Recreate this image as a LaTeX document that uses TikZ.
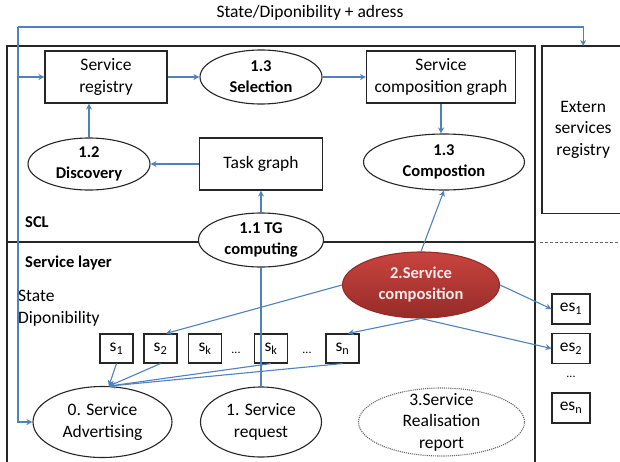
\documentclass[tikz,border=0pt]{standalone}
\usepackage{fontspec}
\setmainfont{Carlito}
\usetikzlibrary{arrows.meta, shapes.geometric}
\definecolor{cblue}{HTML}{4F81BD}
\definecolor{cred}{HTML}{C9443F}
\definecolor{cdred}{HTML}{962B28}
\definecolor{cline}{HTML}{262626}
\tikzset{
  every picture/.style={font=\fontsize{17.5}{21.5}\selectfont},
  box/.style={draw=cline, line width=1.1pt, align=center, inner sep=3pt},
  ell/.style={ellipse, draw=cline, line width=1.1pt, inner sep=0pt},
  arrow/.style={-{Stealth[length=6pt, width=6pt]}, draw=cblue, line width=1.1pt},
  wire/.style={draw=cblue, line width=1.1pt},
  frame/.style={draw=cline, line width=1.1pt},
  bold/.style={font=\fontsize{16.5}{21}\selectfont\bfseries, align=center},
  note/.style={align=center},
  sbox/.style={box, minimum width=33, minimum height=29, inner sep=0pt},
  dots/.style={font=\fontsize{12}{14}\selectfont, inner sep=1pt},
}

\begin{document}
\begin{tikzpicture}[x=1pt, y=-1pt]
  \useasboundingbox (0,0) rectangle (620,461);
  % frames of the two layers
  \draw[frame] (7,470) -- (7,46) -- (535,46) -- (535,470);
  \draw[cline, line width=1.4pt] (7,242) -- (535,242);
  \draw[black!60, densely dashed, line width=0.8pt] (540,242) -- (620,242);
  \node[note, minimum width=82, minimum height=167, anchor=north west] (ext) at (542,46) {Extern\\services\\registry};
  \draw[frame] (ext.north east) -- (ext.north west) -- (ext.south west) -- (ext.south east);
  \node (sda) at (310,13) {State/Diponibility + adress};
  % SCL
  \node[box, minimum width=122, minimum height=52] (reg) at (106,77) {Service\\registry};
  \node[ell, minimum width=122, minimum height=54] (sel) at (261,77) {};
  \node[bold] (sel-t) at (sel) {1.3\\Selection};
  \node[box, minimum width=149, minimum height=52] (scg) at (441,77) {Service\\composition graph};
  \node[ell, minimum width=122, minimum height=52] (disc) at (89,164) {};
  \node[bold] (disc-t) at (disc) {1.2\\Discovery};
  \node[box, minimum width=123, minimum height=52] (tg) at (261,164) {Task graph};
  \node[ell, minimum width=161, minimum height=56] (comp) at (444,162) {};
  \node[bold] (comp-t) at (comp) {1.3\\Compostion};
  \node[ell, fill=white, minimum width=125, minimum height=54] (tgc) at (261,240) {};
  \node[bold] (tgc-t) at (tgc) {1.1 TG\\computing};
  \node[bold, anchor=west, inner sep=1pt] (scl) at (24,222) {SCL};
  % service layer
  \node[bold, anchor=west, inner sep=1pt] (layer) at (24,263) {Service layer};
  \node[anchor=west, align=left, inner sep=1pt] (state) at (17,308) {State\\Diponibility};
  \node[ell, draw=cdred, top color=cred, bottom color=cdred, minimum width=157, minimum height=66] (sc) at (421,285) {};
  \node[bold, text=white!88!cred] (sc-t) at (sc) {2.Service\\composition};
  \foreach \n/\x/\i in {s1/116.5/1, s2/160.5/2, sk/205/k, skk/271/k, sn/342.5/n}
    \node[sbox] (\n) at (\x,348.5) {s\textsubscript{\i}};
  \node[dots] (dots1) at (236,353) {...};
  \node[dots] (dots2) at (307,353) {...};
  \foreach \n/\y/\i in {es1/309/1, es2/348.5/2, esn/408/n}
    \node[sbox, minimum width=38, minimum height=30] (\n) at (571,\y) {es\textsubscript{\i}};
  \node[dots] (esdots) at (571,377) {...};
  \node[ell, minimum width=139, minimum height=71] (adv) at (102.5,422) {};
  \node[note] (adv-t) at (adv) {0. Service\\Advertising};
  \node[ell, minimum width=121, minimum height=70] (req) at (261,422) {};
  \node[note] (req-t) at (req) {1. Service\\request};
  \node[ell, draw=black!60, densely dotted, minimum width=166, minimum height=68] (rep) at (441.5,422) {};
  \node[note] (rep-t) at (rep) {3.Service\\Realisation\\report};
  % connectors
  \draw[arrow] (reg) -- (sel);
  \draw[arrow] (sel) -- (scg);
  \draw[arrow] (scg.south) -- (scg.south |- comp.north);
  \draw[arrow] (tg) -- (disc);
  \draw[arrow] (disc.north) -- (disc.north |- reg.south);
  \draw[arrow] (tgc) -- (tg);
  \draw[wire] (req) -- (tgc);
  \draw[arrow] (sc.north) -- (comp.south);
  \draw[arrow] (sc.west) -- (s2.70);
  \draw[arrow] (sc.south) -- (sn.70);
  \draw[arrow] (sc.south) -- (es2.west);
  \draw[arrow] (sc.east) -- (es1.west);
  \foreach \n in {s1, s2, skk, sn}
    \draw[arrow] (\n.south) -- (adv.80);
  \coordinate (corner) at (18,27);
  \draw[arrow] (corner) -| (ext.north);
  \draw[arrow] (corner) |- (adv.west);
  \draw[arrow] (corner |- reg.west) -- (reg.west);
\end{tikzpicture}
\end{document}
